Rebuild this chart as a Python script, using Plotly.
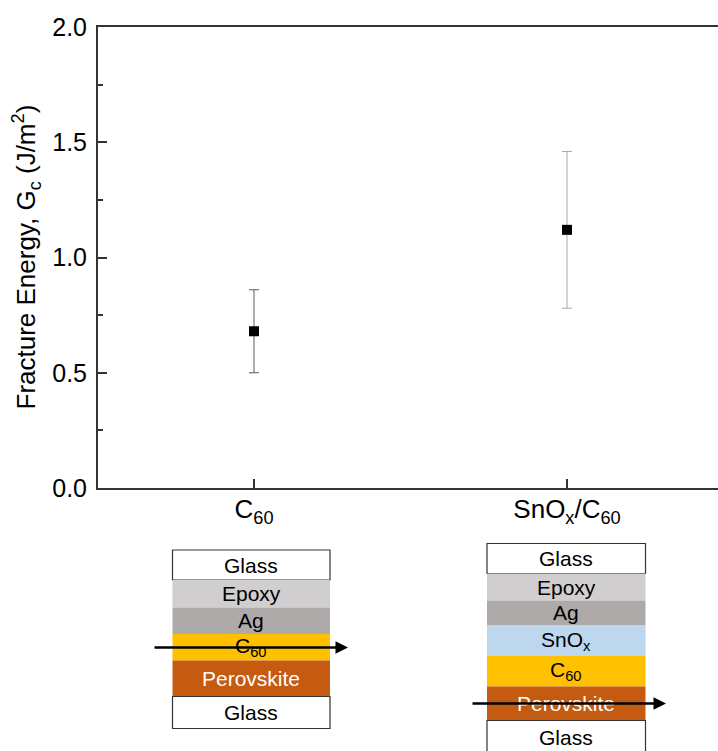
import plotly.graph_objects as go

# ---- data ----
categories = ["C<sub>60</sub>", "SnO<sub>x</sub>/C<sub>60</sub>"]
cat_pos = [1, 2]
gc_values = [0.68, 1.12]
err_plus = [0.18, 0.34]
err_minus = [0.18, 0.34]
err_colors = ["#5a5a5a", "#a8a8a8"]

y_ticks = [0.0, 0.5, 1.0, 1.5, 2.0]
y_ticklabels = ["0.0", "0.5", "1.0", "1.5", "2.0"]

# layer stacks (top to bottom)
stack1_layers = ["Glass", "Epoxy", "Ag", "C<sub>60</sub>", "Perovskite", "Glass"]
stack1_colors = ["#ffffff", "#d0cece", "#aeaaaa", "#ffc000", "#c55a11", "#ffffff"]
stack1_text = ["#000000", "#000000", "#000000", "#000000", "#ffffff", "#000000"]
stack1_bounds = [550, 580, 607.5, 634, 660.5, 696.5, 728.5]

stack2_layers = ["Glass", "Epoxy", "Ag", "SnO<sub>x</sub>", "C<sub>60</sub>", "Perovskite", "Glass"]
stack2_colors = ["#ffffff", "#d0cece", "#aeaaaa", "#bdd7ee", "#ffc000", "#c55a11", "#ffffff"]
stack2_text = ["#000000", "#000000", "#000000", "#000000", "#000000", "#ffffff", "#000000"]
stack2_bounds = [543.5, 573.5, 600.5, 625, 656, 686.5, 720.5, 754]

FONT = "Arial, Liberation Sans, sans-serif"
W, H = 718, 751
ML, MR, MT, MB = 98, 0, 27, 263
PW = W - ML - MR
PH = H - MT - MB


def px(xp):
    return (xp - ML) / PW


def py(yp):
    return (H - MB - yp) / PH


fig = go.Figure()
for i in range(len(categories)):
    fig.add_trace(go.Scatter(
        x=[cat_pos[i]], y=[gc_values[i]], mode="markers",
        marker=dict(symbol="square", size=10, color="black"),
        error_y=dict(type="data", array=[err_plus[i]], arrayminus=[err_minus[i]],
                     color=err_colors[i], thickness=1, width=5),
        showlegend=False,
    ))

shapes = []
annotations = []


def add_stack(x0, x1, bounds, names, colors, tcolors):
    for j, name in enumerate(names):
        y0, y1 = bounds[j], bounds[j + 1]
        is_glass = colors[j] == "#ffffff"
        shapes.append(dict(
            type="rect", xref="paper", yref="paper",
            x0=px(x0), x1=px(x1), y0=py(y1), y1=py(y0),
            fillcolor=colors[j],
            line=dict(color="#333333" if is_glass else colors[j], width=1.2 if is_glass else 0),
            layer="above",
        ))
        annotations.append(dict(
            xref="paper", yref="paper", x=px((x0 + x1) / 2), y=py((y0 + y1) / 2),
            text=name, showarrow=False, font=dict(family=FONT, size=21, color=tcolors[j]),
            xanchor="center", yanchor="middle",
        ))


add_stack(172.5, 330, stack1_bounds, stack1_layers, stack1_colors, stack1_text)
add_stack(487, 645.5, stack2_bounds, stack2_layers, stack2_colors, stack2_text)

# crack path arrows
for (xs, xe, yy) in [(153, 348, 647.5), (471, 666, 703.5)]:
    annotations.append(dict(
        xref="paper", yref="paper", x=px(xe), y=py(yy),
        ax=-(xe - xs), ay=0, text="", showarrow=True,
        arrowhead=2, arrowsize=1.0, arrowwidth=2.5, arrowcolor="black", standoff=0,
    ))

# y-axis title
annotations.append(dict(
    xref="paper", yref="paper", x=px(26), y=0.5,
    text="Fracture Energy, G<sub>c</sub> (J/m<sup>2</sup>)", textangle=-90,
    showarrow=False, font=dict(family=FONT, size=26, color="black"),
    xanchor="center", yanchor="middle",
))

fig.update_layout(
    width=W, height=H,
    margin=dict(l=ML, r=MR, t=MT, b=MB, pad=0),
    paper_bgcolor="white", plot_bgcolor="white",
    shapes=shapes, annotations=annotations,
    font=dict(family=FONT, color="black"),
    xaxis=dict(
        range=[1 - 156 / 313, 2 + 151 / 313],
        tickvals=cat_pos, ticktext=categories,
        ticks="inside", ticklen=9, tickwidth=1.5, tickcolor="#333333",
        showline=True, linecolor="#333333", linewidth=2, mirror=True,
        showgrid=False, zeroline=False,
        tickfont=dict(family=FONT, size=26, color="black"),
        ticklabelstandoff=-3,
    ),
    yaxis=dict(
        range=[0, 2.0],
        tickvals=y_ticks, ticktext=y_ticklabels,
        ticks="inside", ticklen=9, tickwidth=1.5, tickcolor="#333333",
        minor=dict(ticks="inside", ticklen=5, tickwidth=1.5, tickcolor="#333333", dtick=0.25, showgrid=False),
        showline=True, linecolor="#333333", linewidth=2,
        showgrid=False, zeroline=False,
        tickfont=dict(family=FONT, size=25, color="black"),
        ticklabelstandoff=4,
    ),
)

fig.write_html("out.html", config={"displayModeBar": False},
               post_script="document.body.style.margin='0';document.body.style.padding='0';")
